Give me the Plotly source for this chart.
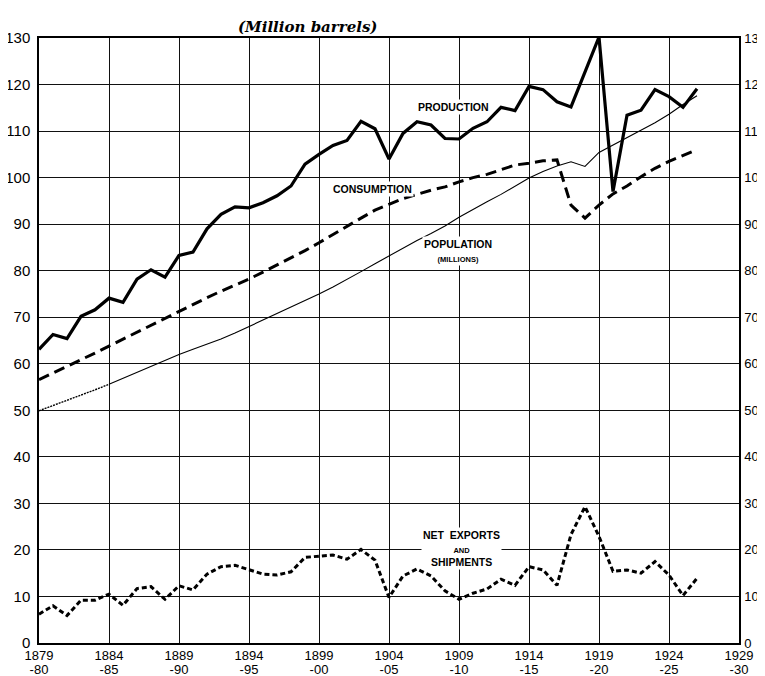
import plotly.graph_objects as go

years = list(range(1879, 1927))

production = [63.1, 66.3, 65.4, 70.2, 71.6, 74.1, 73.2, 78.2, 80.2, 78.6,
              83.3, 84.0, 89.0, 92.1, 93.7, 93.5, 94.6, 96.1, 98.2, 102.9,
              105.0, 106.9, 108.0, 112.1, 110.5, 104.0, 109.5, 112.0, 111.3, 108.4,
              108.3, 110.6, 112.0, 115.1, 114.4, 119.6, 118.9, 116.3, 115.2, 122.7,
              130.2, 97.0, 113.4, 114.5, 118.9, 117.4, 115.1, 119.1]

consumption = [56.6, 58.0, 59.4, 60.9, 62.3, 63.8, 65.3, 66.8, 68.3, 69.8,
               71.2, 72.7, 74.2, 75.6, 76.9, 78.2, 79.7, 81.2, 82.8, 84.3,
               86.0, 87.8, 89.6, 91.3, 93.0, 94.3, 95.5, 96.4, 97.3, 98.0,
               99.1, 100.0, 100.7, 101.7, 102.7, 103.1, 103.6, 103.8, 94.1, 91.3,
               94.1, 96.5, 98.2, 100.2, 102.0, 103.5, 104.7, 106.0]

population = [49.9, 51.0, 52.1, 53.2, 54.4, 55.6, 56.9, 58.2, 59.5, 60.8,
              62.0, 63.1, 64.2, 65.3, 66.6, 68.0, 69.4, 70.8, 72.2, 73.5,
              75.0, 76.5, 78.1, 79.8, 81.5, 83.2, 84.9, 86.5, 88.0, 89.6,
              91.5, 93.2, 94.8, 96.4, 98.2, 99.9, 101.3, 102.5, 103.4, 102.4,
              105.4, 107.0, 108.7, 110.2, 111.8, 113.6, 115.7, 117.6]

net_exports = [6.2, 8.0, 5.9, 9.2, 9.2, 10.5, 8.1, 11.7, 12.1, 9.4,
               12.3, 11.4, 14.8, 16.4, 16.7, 15.7, 14.8, 14.6, 15.3, 18.4,
               18.6, 18.9, 18.0, 20.1, 17.8, 9.8, 14.4, 15.9, 14.4, 11.2,
               9.4, 10.7, 11.6, 13.7, 12.4, 16.4, 15.7, 12.4, 23.3, 29.3,
               22.9, 15.4, 15.7, 15.0, 17.5, 14.6, 10.2, 13.9]

x_tickvals = [1879, 1884, 1889, 1894, 1899, 1904, 1909, 1914, 1919, 1924, 1929]
x_ticktext_top = ["1879", "1884", "1889", "1894", "1899", "1904", "1909", "1914",
                  "1919", "1924", "1929"]
x_ticktext_bottom = ["-80", "-85", "-90", "-95", "-00", "-05", "-10", "-15", "-20",
                     "-25", "-30"]
y_tickvals = list(range(0, 131, 10))

FONT = "Liberation Sans"

fig = go.Figure()

fig.add_trace(go.Scatter(x=years, y=production, mode="lines",
                         line=dict(color="black", width=3.2), hoverinfo="skip"))
fig.add_trace(go.Scatter(x=years, y=consumption, mode="lines",
                         line=dict(color="black", width=3, dash="11px,6px"), hoverinfo="skip"))
fig.add_trace(go.Scatter(x=years[:6], y=population[:6], mode="lines",
                         line=dict(color="black", width=1.4, dash="2px,1px"), hoverinfo="skip"))
fig.add_trace(go.Scatter(x=years[5:], y=population[5:], mode="lines",
                         line=dict(color="black", width=1.1), hoverinfo="skip"))
fig.add_trace(go.Scatter(x=years, y=net_exports, mode="lines",
                         line=dict(color="black", width=3, dash="5px,3px"), hoverinfo="skip"))
# invisible trace to activate the right-hand axis and the second x label row
fig.add_trace(go.Scatter(x=years, y=production, mode="lines", xaxis="x2", yaxis="y2",
                         line=dict(color="rgba(0,0,0,0)", width=0), hoverinfo="skip"))

label_font = dict(family=FONT, size=10.5, color="black")
annotations = [
    dict(x=1908.6, y=115.2, text="<b>PRODUCTION</b>"),
    dict(x=1902.8, y=97.5, text="<b>CONSUMPTION</b>"),
    dict(x=1908.9, y=84.2, text="<b>POPULATION</b><br><span style='font-size:7.5px'><b>(MILLIONS)</b></span>"),
    dict(x=1909.2, y=20.4, text="<b>NET  EXPORTS</b><br><span style='font-size:7.5px'><b>AND</b></span><br><b>SHIPMENTS</b>"),
]
anns = []
for a in annotations:
    anns.append(dict(x=a["x"], y=a["y"], xref="x", yref="y", text=a["text"],
                     showarrow=False, font=label_font, bgcolor="white",
                     borderpad=1, align="center"))
anns.append(dict(x=0.384, y=1.036, xref="paper", yref="paper",
                 text="<b><i>(Million barrels)</i></b>", showarrow=False,
                 font=dict(family="DejaVu Serif", size=15, color="black")))

fig.update_layout(
    width=765, height=676,
    margin=dict(l=31, r=34, t=30, b=41),
    paper_bgcolor="white", plot_bgcolor="white",
    showlegend=False,
    annotations=anns,
    xaxis=dict(range=[1879, 1929], tickvals=x_tickvals, ticktext=x_ticktext_top,
               showgrid=True, gridcolor="#111", gridwidth=1.4, zeroline=False,
               mirror=True, tickfont=dict(family=FONT, size=13, color="black"),
               showline=True, linecolor="black", linewidth=1.5, ticks="",
               automargin=False, ticklabelstandoff=0),
    xaxis2=dict(range=[1879, 1929], tickvals=x_tickvals, ticktext=x_ticktext_bottom,
                overlaying="x", side="bottom", anchor="y2",
                showgrid=False, zeroline=False, showline=False, ticks="",
                tickfont=dict(family=FONT, size=13, color="black"),
                automargin=False, ticklabelstandoff=17),
    yaxis=dict(range=[0, 130], tickvals=y_tickvals, showgrid=True, gridcolor="#111",
               gridwidth=1.4, zeroline=False, ticklabelstandoff=4,
               showline=True, linecolor="black", linewidth=1.5, automargin=False,
               ticks="", tickfont=dict(family=FONT, size=15, color="black")),
    yaxis2=dict(range=[0, 130], tickvals=y_tickvals, overlaying="y", side="right",
                anchor="x2", showgrid=False, zeroline=False, ticklabelstandoff=1,
                showline=True, linecolor="black", linewidth=1.5, automargin=False,
                ticks="", tickfont=dict(family=FONT, size=13, color="black")),
)

fig.write_html("out.html")
